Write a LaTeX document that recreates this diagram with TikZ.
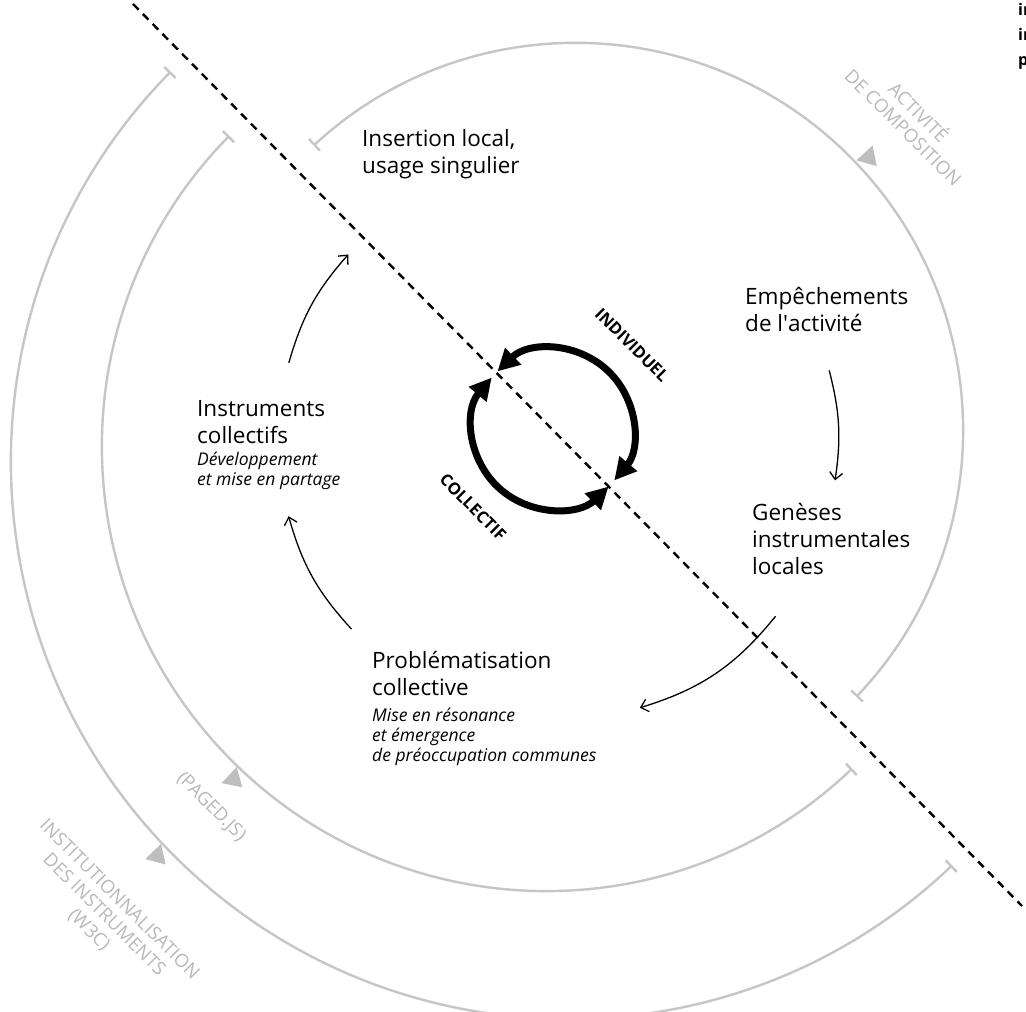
\documentclass[tikz,border=0pt]{standalone}
\usepackage{fontspec}
\setmainfont{Open Sans}
\usetikzlibrary{arrows.meta}
\definecolor{arcgray}{HTML}{C6C6C6}
\definecolor{labgray}{HTML}{B9B9B9}
\definecolor{trigray}{HTML}{BEBEBE}
\begin{document}
\begin{tikzpicture}[x=1pt,y=1pt,
  garc/.style={draw=arcgray, line width=2.4pt, {Bar[width=16pt]}-{Bar[width=16pt]}},
  tri/.style={fill=trigray},
  glabel/.style={text=labgray, font=\fontsize{18.5}{21.5}\selectfont, align=center, rotate=-45, inner sep=0pt},
  blabel/.style={font=\bfseries\fontsize{16.5}{19}\selectfont, rotate=-45, inner sep=0pt},
  maintxt/.style={font=\fontsize{22.5}{27}\selectfont, align=left, anchor=north west, inner sep=0pt},
  subtxt/.style={font=\itshape\fontsize{17.5}{20}\selectfont, align=left, anchor=north west, inner sep=0pt},
  flow/.style={line width=1.3pt, -{Straight Barb[length=7pt,width=13pt]}},
  cyc/.style={line width=7pt, {Triangle[length=22pt,width=22pt]}-{Triangle[length=22pt,width=22pt]}},
  dashln/.style={line width=2.4pt, dash pattern=on 8pt off 6pt},
  frag/.style={font=\bfseries\fontsize{16}{19}\selectfont, anchor=base west, inner sep=0pt}
]
\path[use as bounding box] (0,0) rectangle (1026,1012);
\clip (0,0) rectangle (1026,1012);
\fill[white] (0,0) rectangle (1026,1012);

\coordinate (S) at (553,583);
\coordinate (C1) at (576,582);
\coordinate (C2) at (546,565);
\coordinate (C3) at (568,550);
\coordinate (M) at (558,572);
\coordinate (d1) at (133,1008);
\coordinate (d2) at (1022,106);

% gray arcs
\draw[garc] ([shift={(132.7:387)}]C1) arc[start angle=132.7,end angle=-43.6,radius=387];
\draw[garc] ([shift={(135.5:444)}]C2) arc[start angle=135.5,end angle=313.6,radius=444];
\draw[garc] ([shift={(135.5:557)}]C3) arc[start angle=135.5,end angle=313.6,radius=557];

% triangles
\coordinate (t1) at ([shift={(42.7:400)}]C1);
\coordinate (t2) at ([shift={(227:456)}]C2);
\coordinate (t3) at ([shift={(224:569)}]C3);
\fill[tri,shift={(t1)},rotate=-47.3] (10,0)--(-8,11)--(-8,-11)--cycle;
\fill[tri,shift={(t2)},rotate=317] (10,0)--(-8,11)--(-8,-11)--cycle;
\fill[tri,shift={(t3)},rotate=314] (10,0)--(-8,11)--(-8,-11)--cycle;

% gray labels
\node[glabel] (activ) at (912,893) {ACTIVITÉ\\DE COMPOSITION};
\node[glabel] (paged) at (211,205) {(PAGED.JS)};
\node[glabel] (instit) at (104,97) {INSTITUTIONNALISATION\\DES INSTRUMENTS\\(W3C)};

% central cycle
\draw[cyc] ([shift={(134:80)}]S) arc[start angle=134,end angle=-40,radius=80];
\draw[cyc] ([shift={(140:80)}]S) arc[start angle=140,end angle=314,radius=80];
\node[blabel] (indiv) at (632,667) {INDIVIDUEL};
\node[blabel] (coll) at (473,505) {COLLECTIF};

% dashed divide
\draw[dashln] (d1) -- (d2);

% texts
\node[maintxt] (ins) at (362,883) {Insertion local,\\usage singulier};
\node[maintxt] (emp) at (745,725) {Empêchements\\de l\textquotesingle activité};
\node[maintxt] (gen) at (752,509) {Genèses\\instrumentales\\locales};
\node[maintxt] (instr) at (197,612) {Instruments\\collectifs};
\node[subtxt] (instrsub) at (197,560) {Développement\\et mise en partage};
\node[maintxt] (prob) at (372,361) {Problématisation\\collective};
\node[subtxt] (probsub) at (372,304) {Mise en résonance\\et émergence\\de préoccupation communes};

% flow arrows
\coordinate (a1s) at ([shift={(164:280)}]M);
\coordinate (a1e) at ([shift={(138.5:280)}]M);
\coordinate (a2s) at ([shift={(14.4:280)}]M);
\coordinate (a2e) at ([shift={(-8.3:280)}]M);
\coordinate (a3s) at ([shift={(-39:280)}]M);
\coordinate (a3e) at ([shift={(-73:280)}]M);
\coordinate (a4s) at ([shift={(222.5:280)}]M);
\coordinate (a4e) at ([shift={(195.8:280)}]M);
\draw[flow] (a1s) to[bend left=12.75] (a1e);
\draw[flow] (a2s) to[bend left=11.4] (a2e);
\draw[flow] (a3s) to[bend left=17] (a3e);
\draw[flow] (a4s) to[bend left=13.4] (a4e);

% cut-off text at the right edge
\node[frag] (f1) at (1018,996) {in};
\node[frag] (f2) at (1018,971) {in};
\node[frag] (f3) at (1018,946) {p};
\end{tikzpicture}
\end{document}
